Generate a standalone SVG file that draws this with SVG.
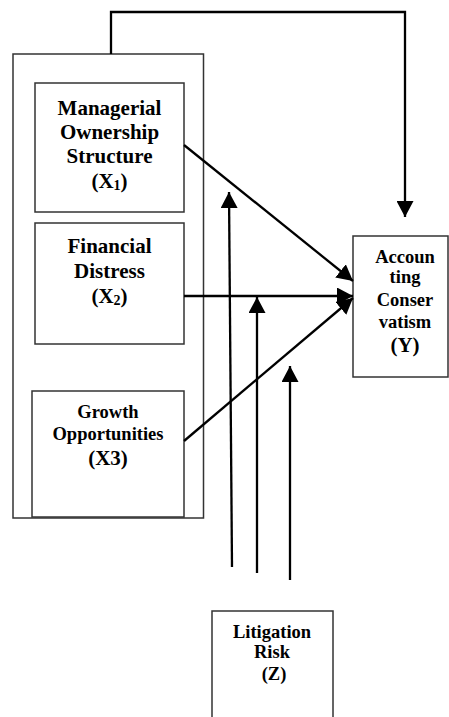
<svg xmlns="http://www.w3.org/2000/svg" width="449" height="717" viewBox="0 0 449 717">
<style>
.box{fill:#fff;stroke:#333;stroke-width:1.5}
.c{fill:none;stroke:#000;stroke-width:2.3}
text{font-family:"Liberation Serif","Times New Roman",serif;font-weight:bold;fill:#000;text-anchor:middle}
.t21{font-size:21px}
.t18{font-size:18.5px}
</style>
<defs>
<marker id="ah" markerUnits="userSpaceOnUse" markerWidth="17" markerHeight="17" refX="16" refY="8.5" orient="auto">
<path d="M0,0 L16,8.5 L0,17 z" fill="#000"/>
</marker>
</defs>
<rect width="449" height="717" fill="#fff"/>
<g id="outer"><rect class="box" x="13" y="54" width="190.5" height="464"/></g>
<g id="x1">
<rect class="box" x="35" y="83" width="149" height="129"/>
<text class="t21" x="109.5" y="115">Managerial</text>
<text class="t21" x="109.5" y="139">Ownership</text>
<text class="t21" x="109.5" y="163">Structure</text>
<text class="t21" x="109.5" y="188">(X<tspan font-size="14" dy="2">1</tspan><tspan dy="-2">)</tspan></text>
</g>
<g id="x2">
<rect class="box" x="35" y="223" width="149" height="121"/>
<text class="t21" x="109.5" y="253">Financial</text>
<text class="t21" x="109.5" y="278">Distress</text>
<text class="t21" x="109.5" y="303">(X<tspan font-size="14" dy="2">2</tspan><tspan dy="-2">)</tspan></text>
</g>
<g id="x3">
<rect class="box" x="32" y="391" width="152" height="126"/>
<text class="t18" x="108" y="418">Growth</text>
<text class="t18" x="108" y="440">Opportunities</text>
<text class="t21" x="108" y="465">(X3)</text>
</g>
<g id="y">
<rect class="box" x="353" y="236" width="95" height="141"/>
<text class="t18" x="405" y="263">Accoun</text>
<text class="t18" x="405" y="283">ting</text>
<text class="t18" x="405" y="306">Conser</text>
<text class="t18" x="405" y="328">vatism</text>
<text class="t21" x="405" y="352">(Y)</text>
</g>
<g id="z">
<rect class="box" x="212" y="611" width="121" height="110"/>
<text class="t18" x="272" y="638">Litigation</text>
<text class="t18" x="272" y="658">Risk</text>
<text class="t18" x="274" y="680">(Z)</text>
</g>
<g id="connectors">
<path class="c" d="M111,54 V12 H405 V217" marker-end="url(#ah)"/>
<line class="c" x1="184" y1="145" x2="353" y2="281" marker-end="url(#ah)"/>
<line class="c" x1="184" y1="296" x2="353" y2="296" marker-end="url(#ah)"/>
<line class="c" x1="184" y1="441" x2="353" y2="298" marker-end="url(#ah)"/>
<line class="c" x1="232" y1="567" x2="229" y2="192" marker-end="url(#ah)"/>
<line class="c" x1="257" y1="573" x2="257" y2="297" marker-end="url(#ah)"/>
<line class="c" x1="290" y1="580" x2="290" y2="366" marker-end="url(#ah)"/>
</g>
</svg>
